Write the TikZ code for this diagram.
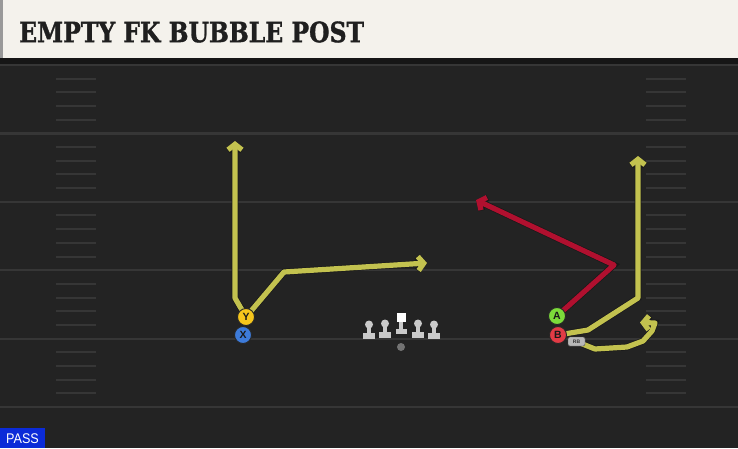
\documentclass[tikz,border=0pt]{standalone}
\usepackage{fontspec}
\setmainfont{Liberation Sans}
\newfontfamily\titlefont[BoldFeatures={FakeBold=1.3}]{DejaVu Serif}
\usetikzlibrary{arrows.meta,calc}
\definecolor{fieldbg}{HTML}{232323}
\definecolor{headbg}{HTML}{F4F2EC}
\definecolor{headshadow}{HTML}{161616}
\definecolor{fieldline}{HTML}{363636}
\definecolor{hashcol}{HTML}{363636}
\definecolor{routey}{HTML}{C3C24F}
\definecolor{router}{HTML}{B0102F}
\definecolor{ycol}{HTML}{F6C61C}
\definecolor{xcol}{HTML}{3D7BDA}
\definecolor{acol}{HTML}{7CDB3A}
\definecolor{bcol}{HTML}{E23B45}
\definecolor{olcol}{HTML}{CACACA}
\definecolor{passblue}{HTML}{0B2BD8}
\begin{document}
\begin{tikzpicture}[x=1pt,y=-1pt,
  player/.style={circle,minimum size=17pt,inner sep=0pt,draw=black!85,line width=0.9pt,
    font=\bfseries\fontsize{10.5}{10.5}\selectfont,text=black!90},
  route/.style={line width=5.2pt,line join=round,
    -{Straight Barb[length=5.5pt,width=14pt,line width=5.2pt]},
    preaction={draw=black!90,line width=6.6pt,
      -{Straight Barb[length=5.5pt,width=14pt,line width=6.6pt]}}},
  fline/.style={draw=fieldline,line width=2.2pt},
  hash/.style={draw=hashcol,line width=2pt},
  lineman/.style={fill=olcol}
]
\useasboundingbox (0,0) rectangle (738,448);
\fill[fieldbg] (0,0) rectangle (738,448);
% header
\fill[headshadow] (0,56) rectangle (738,64);
\fill[headbg] (0,0) rectangle (738,58);
\fill[black!40] (0,0) rectangle (3,58);
\node[anchor=west,inner sep=0pt,text=black!88] (title) at (19,32)
  {\scalebox{0.84}[1]{\titlefont\bfseries\fontsize{28}{28}\selectfont EMPTY FK BUBBLE POST}};
% field lines
\foreach \yy in {65,133.4,201.8,270.2,338.6,407}
  \draw[fline] (0,\yy) -- (738,\yy);
% hash marks
\foreach \b in {65,133.4,201.8,270.2,338.6}
  \foreach \k in {1,2,3,4} {
    \draw[hash] (56,\b+\k*13.68) -- (96,\b+\k*13.68);
    \draw[hash] (646,\b+\k*13.68) -- (686,\b+\k*13.68);
  }
% player positions
\coordinate (Ypos) at (246,317);
\coordinate (Apos) at (557,316);
% route coordinates
\coordinate (y1) at (235,298);
\coordinate (y2) at (235,141);
\coordinate (x1) at (284,272);
\coordinate (x2) at (427,263);
\coordinate (a1) at (614,265);
\coordinate (a2) at (476,200);
\coordinate (b1) at (588,330);
\coordinate (b2) at (638,298);
\coordinate (b3) at (638,156);
\coordinate (r1) at (595,349);
\coordinate (r2) at (627,347);
\coordinate (r3) at (643,341);
\coordinate (r4) at (652,331);
\coordinate (r5) at (655,323);
\coordinate (r6) at (640,322.5);
% routes
\draw[route,draw=routey] (Ypos) -- (y1) -- (y2);
\draw[route,draw=routey] (Ypos) -- (x1) -- (x2);
\draw[route,draw=router] (Apos) -- (a1) -- (a2);
\draw[route,draw=routey] (558,335) -- (b1) -- (b2) -- (b3);
\draw[route,draw=routey] (580,343) -- (r1) -- (r2) -- (r3) -- (r4) -- (r5) -- (r6);
% RB tag
\node[draw=black!70,fill=black!28,rounded corners=1.5pt,minimum width=17pt,minimum height=9pt,inner sep=0pt,
  font=\bfseries\fontsize{5}{5}\selectfont,text=black!80] (RB) at (576.5,341.5) {RB};
% players
\node[player,fill=xcol] (X) at (243,335) {X};
\node[player,fill=ycol] (Y) at (Ypos) {Y};
\node[player,fill=bcol] (B) at (558,335) {B};
\node[player,fill=acol] (A) at (Apos) {A};
% offensive line
\foreach \xx/\yt in {369/1,385/0,418/0,434/1} {
  \fill[lineman] (\xx,323.5+\yt) circle (4pt);
  \fill[lineman] (\xx-2.3,323.5+\yt) rectangle (\xx+2.3,333+\yt);
  \fill[lineman] (\xx-6,332+\yt) rectangle (\xx+6,337.5+\yt);
}
\fill[white] (396.5,313) rectangle (405.5,322);
\fill[lineman] (398.7,322) rectangle (403.3,330);
\fill[lineman] (395.5,329) rectangle (406.5,334);
\fill[black!55] (401,347) circle (4pt);
% PASS label
\fill[passblue] (0,428) rectangle (45,448);
\node[text=white,inner sep=0pt,font=\fontsize{14}{14}\selectfont] (pass) at (22.5,438.5) {\scalebox{0.9}[1]{PASS}};
\end{tikzpicture}
\end{document}
